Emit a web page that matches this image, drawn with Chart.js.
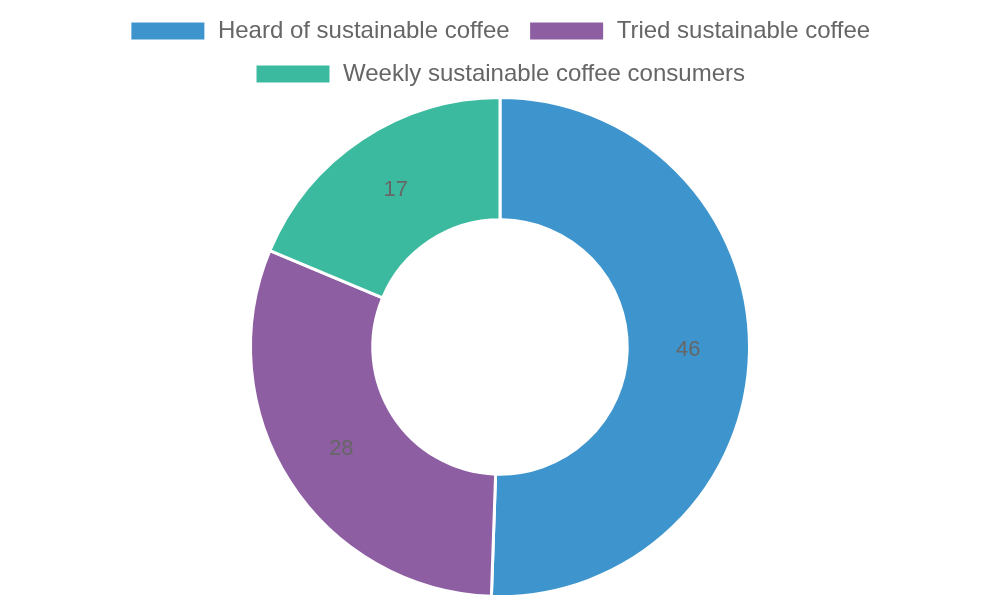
<!DOCTYPE html>
<html><head><meta charset="utf-8">
<script src="https://cdn.jsdelivr.net/npm/chart.js@4"></script>
<style>html,body{margin:0;padding:0;background:#fff}#w{width:1000px;height:600px}</style>
</head><body><div id="w"><canvas id="c"></canvas></div>
<script>
const categories = ["Heard of sustainable coffee", "Tried sustainable coffee", "Weekly sustainable coffee consumers"];
const values = [46, 28, 17];
const colors = ["#3e95cd", "#8e5ea2", "#3cba9f"];

const labelPlugin = {
  id: 'sliceLabels',
  afterDatasetsDraw(chart) {
    const ctx = chart.ctx;
    const meta = chart.getDatasetMeta(0);
    ctx.save();
    ctx.font = '22px "Liberation Sans", Arial, sans-serif';
    ctx.fillStyle = '#666';
    ctx.textAlign = 'center';
    ctx.textBaseline = 'middle';
    meta.data.forEach((arc, i) => {
      const p = arc.tooltipPosition();
      ctx.fillText(String(chart.data.datasets[0].data[i]), p.x, p.y);
    });
    ctx.restore();
  }
};

new Chart(document.getElementById('c'), {
  type: 'doughnut',
  data: { labels: categories, datasets: [{ data: values, backgroundColor: colors, borderColor: '#fff', borderWidth: 3 }] },
  options: {
    responsive: true, maintainAspectRatio: false, animation: false,
    cutout: '51%',
    layout: { padding: { bottom: 2 } },
    plugins: {
      legend: { position: 'top', labels: { boxWidth: 76, boxHeight: 20, padding: 19, color: '#666',
        font: { size: 24, family: '"Liberation Sans", Arial, sans-serif' } } },
      tooltip: { enabled: false }
    }
  },
  plugins: [labelPlugin]
});
</script></body></html>
